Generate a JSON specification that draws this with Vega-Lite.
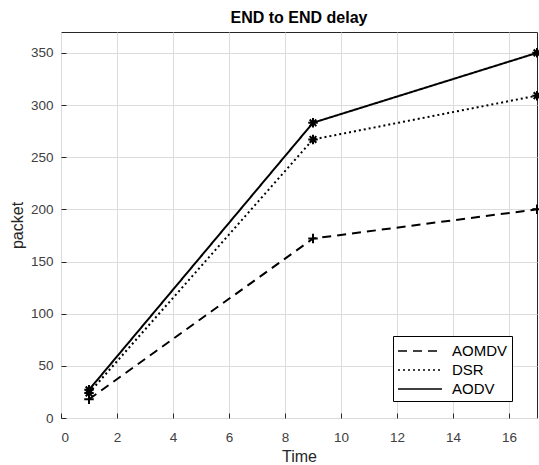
{
  "$schema": "https://vega.github.io/schema/vega-lite/v6.json",
  "width": 476,
  "height": 386,
  "autosize": {"type": "none"},
  "padding": {"left": 61, "top": 32, "right": 2, "bottom": 47},
  "background": "white",
  "config": {
    "font": "Liberation Sans",
    "view": {"stroke": "#262626", "strokeWidth": 1},
    "axis": {
      "grid": true,
      "gridColor": "#dcdcdc",
      "gridWidth": 1,
      "domain": false,
      "ticks": true,
      "tickSize": -5,
      "tickColor": "#262626",
      "labelFont": "Liberation Sans",
      "labelFontSize": 13.5,
      "labelColor": "#404040",
      "titleFont": "Liberation Sans",
      "titleFontSize": 16,
      "titleFontWeight": "normal",
      "titleColor": "#262626"
    }
  },
  "title": {
    "text": "END to END delay",
    "font": "Liberation Sans",
    "fontSize": 16,
    "fontWeight": "bold",
    "color": "#000000",
    "anchor": "middle",
    "offset": 6
  },
  "data": {
    "values": [
      {"protocol": "AOMDV", "time": 1, "packet": 18},
      {"protocol": "AOMDV", "time": 9, "packet": 172},
      {"protocol": "AOMDV", "time": 17, "packet": 200},
      {"protocol": "DSR", "time": 1, "packet": 24},
      {"protocol": "DSR", "time": 9, "packet": 267},
      {"protocol": "DSR", "time": 17, "packet": 309},
      {"protocol": "AODV", "time": 1, "packet": 27},
      {"protocol": "AODV", "time": 9, "packet": 283},
      {"protocol": "AODV", "time": 17, "packet": 350}
    ]
  },
  "encoding": {
    "x": {
      "field": "time",
      "type": "quantitative",
      "scale": {"domain": [0, 17], "nice": false, "zero": false},
      "axis": {"title": "Time", "values": [0, 2, 4, 6, 8, 10, 12, 14, 16], "labelPadding": 17, "titlePadding": 5}
    },
    "y": {
      "field": "packet",
      "type": "quantitative",
      "scale": {"domain": [0, 370], "nice": false},
      "axis": {"title": "packet", "values": [0, 50, 100, 150, 200, 250, 300, 350], "labelPadding": 13, "titlePadding": 5}
    }
  },
  "layer": [
    {
      "mark": {"type": "line", "color": "black", "strokeWidth": 2},
      "encoding": {
        "strokeDash": {
          "field": "protocol",
          "type": "nominal",
          "scale": {"domain": ["AOMDV", "DSR", "AODV"], "range": [[9, 6], [2, 3], [1, 0]]},
          "legend": {
            "title": null,
            "orient": "none",
            "legendX": 332,
            "legendY": 304,
            "strokeColor": "#000000",
            "fillColor": "#ffffff",
            "padding": 4,
            "symbolType": "M-1,0L3.4,0",
            "symbolSize": 400,
            "symbolStrokeWidth": 1.5,
            "symbolStrokeColor": "#000000",
            "symbolFillColor": "transparent",
            "labelFontSize": 15,
            "labelColor": "#000000",
            "labelOffset": 33,
            "rowPadding": 0
          }
        }
      }
    },
    {
      "mark": {"type": "point", "filled": false, "color": "black", "strokeWidth": 2, "size": 90, "opacity": 1},
      "encoding": {
        "shape": {
          "field": "protocol",
          "type": "nominal",
          "scale": {
            "domain": ["AOMDV", "DSR", "AODV"],
            "range": [
              "M-1,0L1,0M0,-1L0,1",
              "M-1,0L1,0M0,-1L0,1M-0.7,-0.7L0.7,0.7M-0.7,0.7L0.7,-0.7",
              "M-1,0L1,0M0,-1L0,1M-0.7,-0.7L0.7,0.7M-0.7,0.7L0.7,-0.7"
            ]
          },
          "legend": null
        }
      }
    }
  ],
  "resolve": {"legend": {"shape": "independent", "strokeDash": "independent"}, "scale": {"shape": "independent"}}
}
